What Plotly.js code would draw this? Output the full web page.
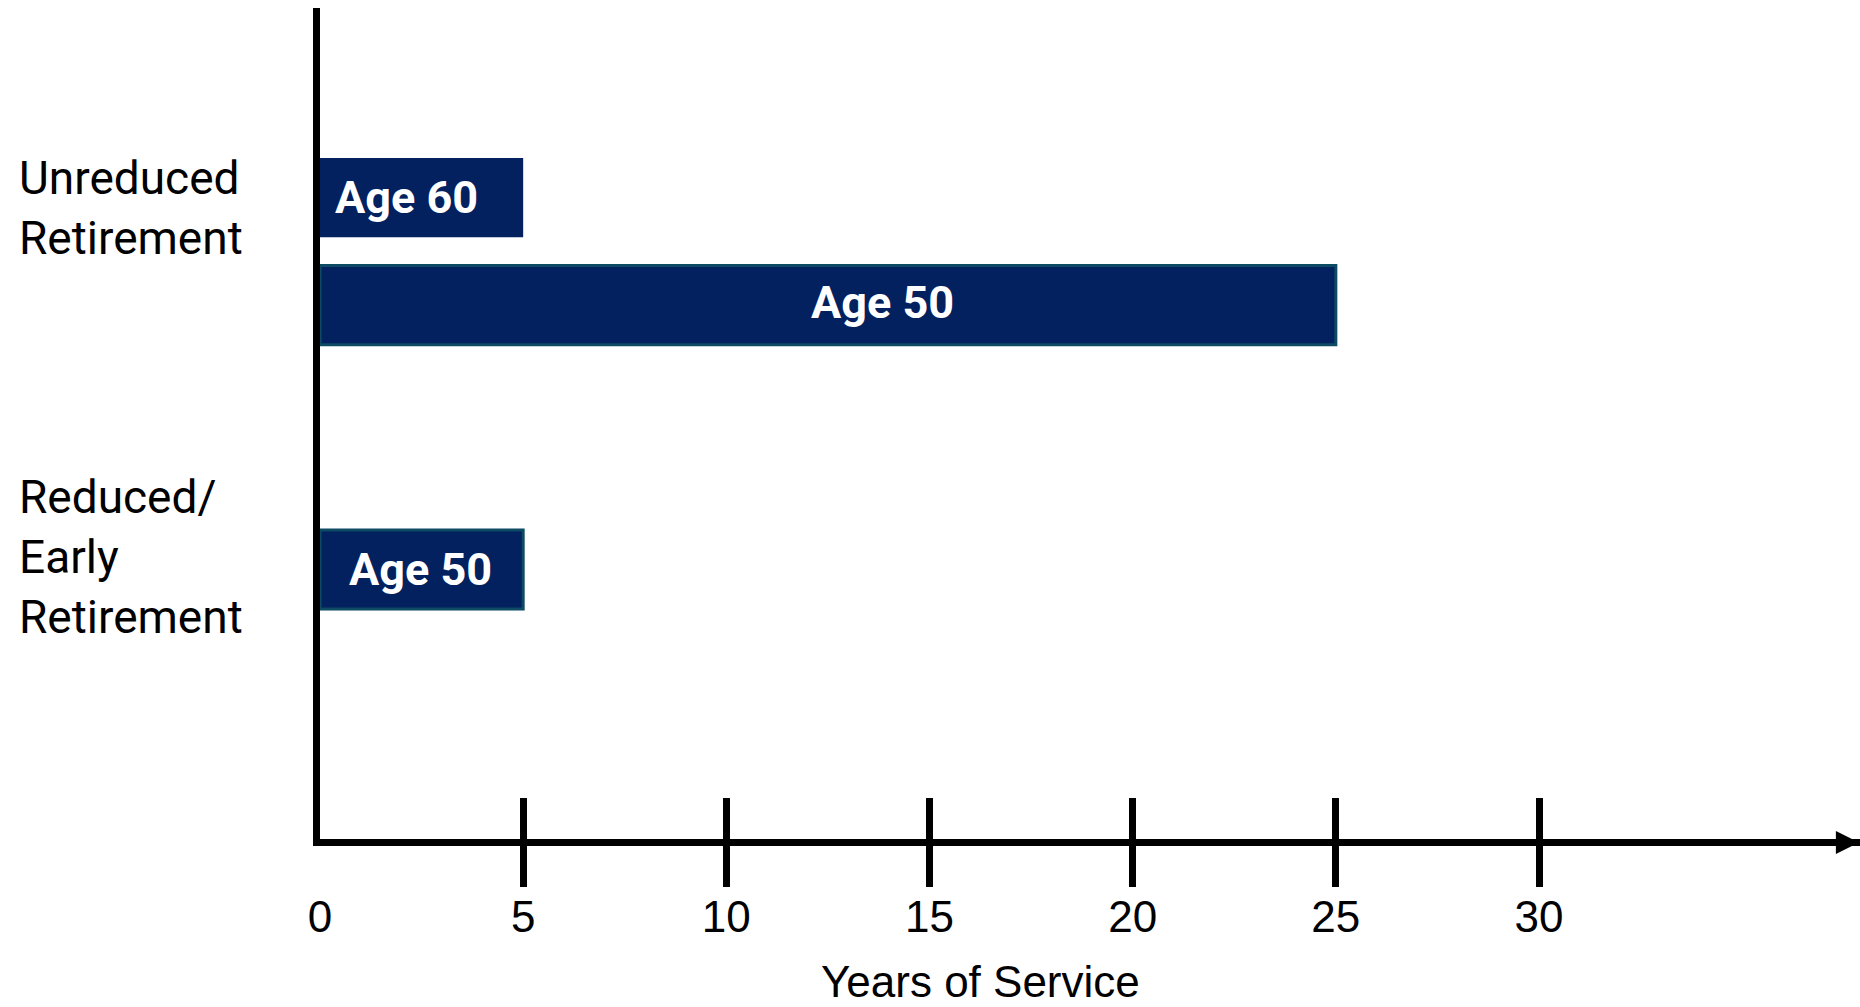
<!DOCTYPE html>
<html><head><meta charset="utf-8">
<script src="https://cdn.plot.ly/plotly-3.0.1.min.js"></script>
<style>html,body{margin:0;padding:0;background:#fff}#chart{width:1860px;height:1007px}</style>
</head><body><div id="chart"></div>
<script>
// ---- data ----
const categories = ['Unreduced Retirement', 'Reduced/ Early Retirement'];
const categoryLabels = ['Unreduced<br>Retirement', 'Reduced/<br>Early<br>Retirement'];
const seriesNames = ['Age 60', 'Age 50'];
const age60Years = [5, null];
const age50Years = [25, 5];
const tickValues = [0, 5, 10, 15, 20, 25, 30];
const tickLabels = ['0', '5', '10', '15', '20', '25', '30'];
const axisTitle = 'Years of Service';

// ---- style ----
const NAVY = '#03205f';
const TEAL = '#0d4a63';
const NARROW = '"Liberation Sans", Arial, sans-serif';
const SANS = 'Roboto, "Liberation Sans", sans-serif';
const XRANGE = [0, 37.9];
const YRANGE = [2.222, -0.920];
const BARGAP = 0.187, GROUPGAP = 0.264;
const LW = 7;

const series = [age60Years, age50Years];
const lineW = [0, 3];
const traces = series.map((vals, k) => ({
  type: 'bar', orientation: 'h', name: seriesNames[k],
  y: categories, x: vals,
  marker: {color: NAVY, line: {color: TEAL, width: lineW[k]}},
  hoverinfo: 'skip'
}));
// empty carriers so the two tick-only overlay axes are drawn
['x2', 'x3'].forEach(ax => traces.push({
  type: 'scatter', mode: 'markers', x: [], y: [], xaxis: ax, yaxis: 'y',
  hoverinfo: 'skip', showlegend: false
}));

const annotations = [];
// category labels (left aligned at page edge)
const catShift = [43, -41];
categories.forEach((c, i) => {
  annotations.push({
    xref: 'paper', x: -0.1968, xanchor: 'left', yref: 'y', y: c, yanchor: 'middle',
    yshift: catShift[i], text: categoryLabels[i], align: 'left', showarrow: false,
    font: {family: SANS, size: 46, color: '#000'}
  });
});
// bar labels
const slot = (1 - BARGAP) / 2;
const labelShift = [[-15, 0], [55, -1]];
series.forEach((vals, k) => {
  vals.forEach((v, i) => {
    if (v == null) return;
    annotations.push({
      xref: 'x', yref: 'y', x: v / 2, y: i + (k - 0.5) * slot,
      xshift: labelShift[k][i], yshift: (k === 1 && i === 0) ? 3 : 0,
      text: seriesNames[k], showarrow: false,
      font: {family: SANS, size: 45, color: '#fff', weight: 'bold'}
    });
  });
});
// axis title
annotations.push({
  xref: 'paper', yref: 'paper', x: 0.4292, y: 0, xanchor: 'center', yanchor: 'middle',
  yshift: -142, text: axisTitle, showarrow: false,
  font: {family: NARROW, size: 44, color: '#000'}
});
// arrow head at the end of the x axis
annotations.push({
  xref: 'paper', yref: 'paper', x: 1, y: 0, ax: -60, ay: 0, yshift: -3.5,
  text: '', showarrow: true, arrowhead: 2, arrowsize: 0.66, arrowwidth: LW,
  arrowcolor: '#000', standoff: 0
});

const tickAxis = (dir, len) => ({
  overlaying: 'x', anchor: 'y', side: 'bottom', range: XRANGE,
  tickmode: 'array', tickvals: tickValues.slice(1), ticks: dir, ticklen: len,
  tickwidth: LW, tickcolor: '#000', showticklabels: false, showline: false,
  showgrid: false, zeroline: false, fixedrange: true
});

const layout = {
  width: 1860, height: 1007,
  margin: {l: 320, r: 0, t: 8, b: 168, pad: 0},
  paper_bgcolor: '#fff', plot_bgcolor: '#fff',
  showlegend: false, barmode: 'group', bargap: BARGAP, bargroupgap: GROUPGAP,
  xaxis: {
    range: XRANGE, tickmode: 'array', tickvals: tickValues, ticktext: tickLabels,
    ticks: '', showline: true, linewidth: LW, linecolor: '#000',
    showgrid: false, zeroline: false, ticklabelstandoff: 33,
    tickfont: {family: NARROW, size: 44, color: '#000'}, fixedrange: true
  },
  xaxis2: tickAxis('outside', 47),
  xaxis3: tickAxis('inside', 41),
  yaxis: {
    type: 'category', categoryarray: categories, categoryorder: 'array',
    range: YRANGE, showline: true, linewidth: LW, linecolor: '#000',
    showticklabels: false, ticks: '', showgrid: false, zeroline: false, fixedrange: true
  },
  annotations: annotations
};

Plotly.newPlot('chart', traces, layout, {displayModeBar: false, staticPlot: true});
</script>
</body></html>
